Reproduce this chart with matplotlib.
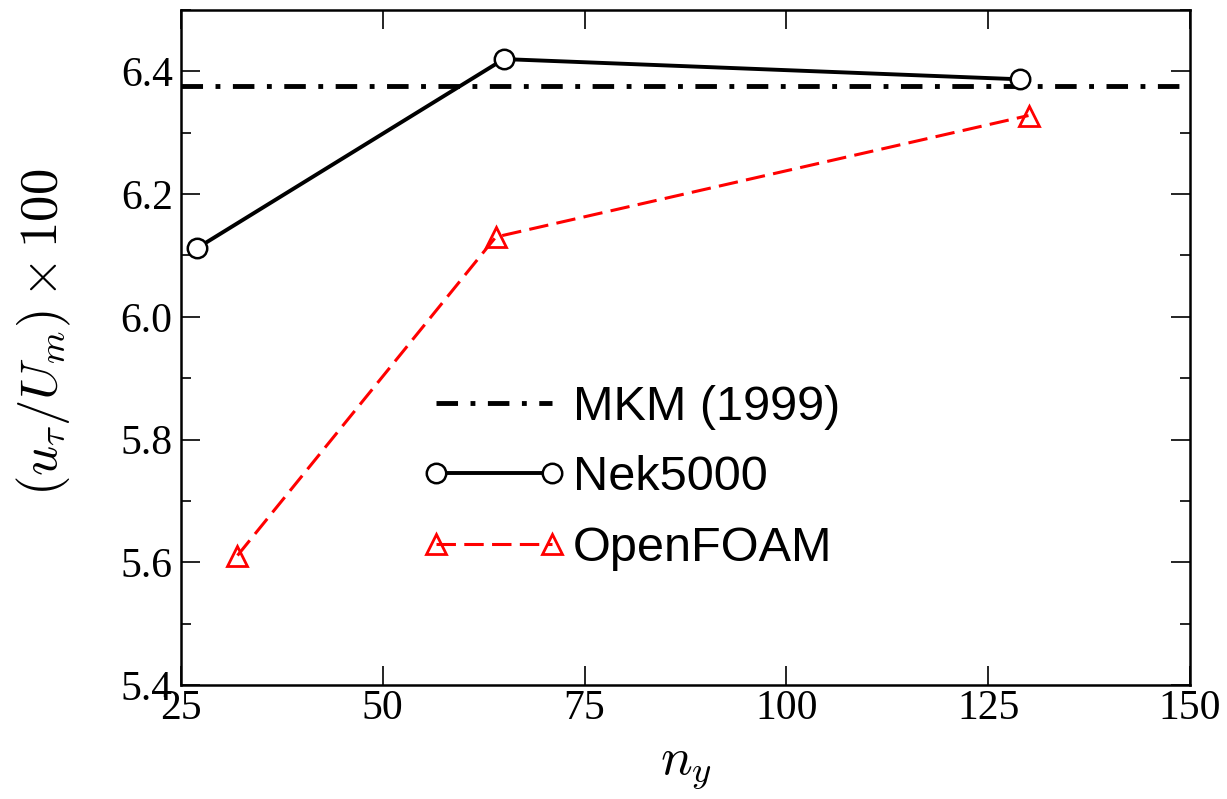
import numpy as np
import matplotlib
matplotlib.use("Agg")
import matplotlib.pyplot as plt
from matplotlib.ticker import MultipleLocator
from matplotlib.lines import Line2D
from matplotlib.legend_handler import HandlerLine2D

plt.rcParams['mathtext.fontset'] = 'cm'
plt.rcParams['font.family'] = 'Liberation Serif'
plt.rcParams['lines.scale_dashes'] = False

# data
mkm_value = 6.376
nek_ny = [27, 65, 129]
nek_ut = [6.112, 6.420, 6.387]
of_ny = [32, 64, 130]
of_ut = [5.611, 6.130, 6.328]

fig = plt.figure(figsize=(12.27, 7.99), dpi=100)
ax = fig.add_axes([0.1475, 0.1427, 0.8223, 0.8448])

ax.axhline(mkm_value, color='black', lw=3.5, dashes=(15.5, 9, 3.5, 9),
           label='MKM (1999)')
ax.plot(nek_ny, nek_ut, '-', color='black', lw=2.8, marker='o', ms=14,
        mfc='white', mec='black', mew=1.8, label='Nek5000')
ax.plot(of_ny, of_ut, color='red', lw=2.2, dashes=(14, 6), marker='^', ms=14,
        mfc='none', mec='red', mew=2.0, label='OpenFOAM')

ax.set_xlim(25, 150)
ax.set_ylim(5.4, 6.5)
ax.xaxis.set_major_locator(MultipleLocator(25))
ax.yaxis.set_major_locator(MultipleLocator(0.2))
ax.yaxis.set_minor_locator(MultipleLocator(0.1))
ax.yaxis.set_major_formatter(matplotlib.ticker.FormatStrFormatter('%.1f'))
ax.tick_params(which='both', direction='in', top=True, right=True,
               labelsize=30, width=1.2)
ax.tick_params(axis='x', pad=3)
ax.tick_params(axis='y', pad=6)
ax.tick_params(which='major', length=14)
ax.tick_params(which='minor', length=7)
for s in ax.spines.values():
    s.set_linewidth(1.8)

ax.set_xlabel(r'$n_y$', fontsize=38, labelpad=12)
ax.set_ylabel(r'$(u_\tau/U_m)\times 100$', fontsize=38)
ax.yaxis.set_label_coords(-0.107, 0.523)

leg = ax.legend(loc='center left', bbox_to_anchor=(0.2527, 0.307), frameon=False,
                numpoints=2, handlelength=2.39, handletextpad=0.43,
                labelspacing=0.52, borderpad=0, borderaxespad=0,
                handler_map={Line2D: HandlerLine2D(marker_pad=0)},
                prop={'family': 'Liberation Sans', 'size': 35})

fig.savefig('out.png', dpi=100)
